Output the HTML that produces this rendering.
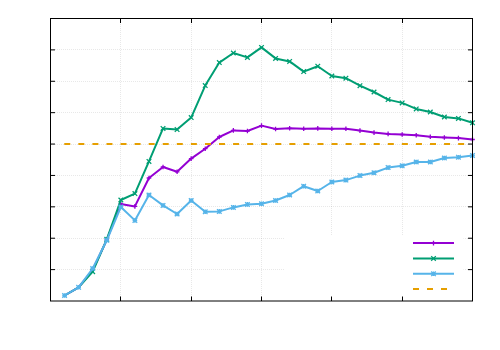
<!DOCTYPE html><html><head><meta charset="utf-8"><style>html,body{margin:0;padding:0;background:#fff;font-family:"Liberation Sans",sans-serif}svg{display:block}</style></head><body>
<svg width="500" height="350" viewBox="0 0 500 350">
<rect width="500" height="350" fill="#fff"/>
<path d="M120.5 301.0V18.5M191.5 301.0V18.5M261.5 301.0V18.5M331.5 301.0V18.5M402.5 301.0V18.5M51.0 49.5H472.5M51.0 81.5H472.5M51.0 112.5H472.5M51.0 144.5H472.5M51.0 175.5H472.5M51.0 206.5H472.5M51.0 238.5H472.5M51.0 269.5H472.5" stroke="#000" stroke-opacity="0.09" stroke-width="1" stroke-dasharray="1 1" fill="none"/>
<rect x="285" y="236" width="178.5" height="64.50" fill="#fff"/>
<path d="M120.5 301.0v-4.5M120.5 18.5v4.5M191.5 301.0v-4.5M191.5 18.5v4.5M261.5 301.0v-4.5M261.5 18.5v4.5M331.5 301.0v-4.5M331.5 18.5v4.5M402.5 301.0v-4.5M402.5 18.5v4.5M50.5 49.89h4.5M472.5 49.89h-4.5M50.5 81.28h4.5M472.5 81.28h-4.5M50.5 112.67h4.5M472.5 112.67h-4.5M50.5 144.06h4.5M472.5 144.06h-4.5M50.5 175.44h4.5M472.5 175.44h-4.5M50.5 206.83h4.5M472.5 206.83h-4.5M50.5 238.22h4.5M472.5 238.22h-4.5M50.5 269.61h4.5M472.5 269.61h-4.5" stroke="#000" stroke-width="1" fill="none"/>
<polyline points="64.57,295.50 78.63,287.35 92.70,270.10 106.77,239.80 120.83,204.00 134.90,206.40 148.97,178.00 163.03,167.00 177.10,171.80 191.17,158.60 205.23,148.70 219.30,137.00 233.37,130.40 247.43,131.00 261.50,125.60 275.57,129.00 289.63,128.30 303.70,128.80 317.77,128.40 331.83,128.80 345.90,128.80 359.97,130.60 374.03,132.60 388.10,133.90 402.17,134.50 416.23,135.20 430.30,136.70 444.37,137.50 458.43,138.10 472.50,139.50" fill="none" stroke="#9400d3" stroke-width="2" stroke-linejoin="round" stroke-linecap="butt"/>
<path d="M90.40 270.10H95.00M92.70 267.80V272.40M104.47 239.80H109.07M106.77 237.50V242.10M118.53 204.00H123.13M120.83 201.70V206.30M132.60 206.40H137.20M134.90 204.10V208.70M146.67 178.00H151.27M148.97 175.70V180.30M160.73 167.00H165.33M163.03 164.70V169.30M174.80 171.80H179.40M177.10 169.50V174.10M188.87 158.60H193.47M191.17 156.30V160.90M202.93 148.70H207.53M205.23 146.40V151.00M217.00 137.00H221.60M219.30 134.70V139.30M231.07 130.40H235.67M233.37 128.10V132.70M245.13 131.00H249.73M247.43 128.70V133.30M259.20 125.60H263.80M261.50 123.30V127.90M273.27 129.00H277.87M275.57 126.70V131.30M287.33 128.30H291.93M289.63 126.00V130.60M301.40 128.80H306.00M303.70 126.50V131.10M315.47 128.40H320.07M317.77 126.10V130.70M329.53 128.80H334.13M331.83 126.50V131.10M343.60 128.80H348.20M345.90 126.50V131.10M357.67 130.60H362.27M359.97 128.30V132.90M371.73 132.60H376.33M374.03 130.30V134.90M385.80 133.90H390.40M388.10 131.60V136.20M399.87 134.50H404.47M402.17 132.20V136.80M413.93 135.20H418.53M416.23 132.90V137.50M428.00 136.70H432.60M430.30 134.40V139.00M442.07 137.50H446.67M444.37 135.20V139.80M456.13 138.10H460.73M458.43 135.80V140.40M470.20 139.50H474.80M472.50 137.20V141.80" stroke="#9400d3" stroke-width="1.3" fill="none"/>
<polyline points="64.57,295.50 78.63,287.40 92.70,271.70 106.77,239.30 120.83,200.00 134.90,193.60 148.97,161.40 163.03,128.40 177.10,129.60 191.17,117.60 205.23,85.60 219.30,62.60 233.37,53.00 247.43,57.40 261.50,47.40 275.57,58.40 289.63,61.40 303.70,71.60 317.77,66.20 331.83,76.00 345.90,78.20 359.97,85.70 374.03,92.00 388.10,99.60 402.17,102.90 416.23,108.90 430.30,112.00 444.37,117.00 458.43,118.40 472.50,122.80" fill="none" stroke="#009e73" stroke-width="2" stroke-linejoin="round" stroke-linecap="butt"/>
<path d="M90.40 269.40L95.00 274.00M90.40 274.00L95.00 269.40M104.47 237.00L109.07 241.60M104.47 241.60L109.07 237.00M118.53 197.70L123.13 202.30M118.53 202.30L123.13 197.70M132.60 191.30L137.20 195.90M132.60 195.90L137.20 191.30M146.67 159.10L151.27 163.70M146.67 163.70L151.27 159.10M160.73 126.10L165.33 130.70M160.73 130.70L165.33 126.10M174.80 127.30L179.40 131.90M174.80 131.90L179.40 127.30M188.87 115.30L193.47 119.90M188.87 119.90L193.47 115.30M202.93 83.30L207.53 87.90M202.93 87.90L207.53 83.30M217.00 60.30L221.60 64.90M217.00 64.90L221.60 60.30M231.07 50.70L235.67 55.30M231.07 55.30L235.67 50.70M245.13 55.10L249.73 59.70M245.13 59.70L249.73 55.10M259.20 45.10L263.80 49.70M259.20 49.70L263.80 45.10M273.27 56.10L277.87 60.70M273.27 60.70L277.87 56.10M287.33 59.10L291.93 63.70M287.33 63.70L291.93 59.10M301.40 69.30L306.00 73.90M301.40 73.90L306.00 69.30M315.47 63.90L320.07 68.50M315.47 68.50L320.07 63.90M329.53 73.70L334.13 78.30M329.53 78.30L334.13 73.70M343.60 75.90L348.20 80.50M343.60 80.50L348.20 75.90M357.67 83.40L362.27 88.00M357.67 88.00L362.27 83.40M371.73 89.70L376.33 94.30M371.73 94.30L376.33 89.70M385.80 97.30L390.40 101.90M385.80 101.90L390.40 97.30M399.87 100.60L404.47 105.20M399.87 105.20L404.47 100.60M413.93 106.60L418.53 111.20M413.93 111.20L418.53 106.60M428.00 109.70L432.60 114.30M428.00 114.30L432.60 109.70M442.07 114.70L446.67 119.30M442.07 119.30L446.67 114.70M456.13 116.10L460.73 120.70M456.13 120.70L460.73 116.10M470.20 120.50L474.80 125.10M470.20 125.10L474.80 120.50" stroke="#009e73" stroke-width="1.3" fill="none"/>
<polyline points="64.57,295.50 78.63,287.30 92.70,268.50 106.77,240.30 120.83,207.00 134.90,220.40 148.97,195.00 163.03,205.40 177.10,214.00 191.17,200.50 205.23,211.80 219.30,211.40 233.37,207.40 247.43,204.40 261.50,203.80 275.57,200.50 289.63,195.00 303.70,186.20 317.77,191.00 331.83,182.00 345.90,180.10 359.97,175.60 374.03,172.80 388.10,167.60 402.17,165.80 416.23,162.00 430.30,162.00 444.37,158.00 458.43,157.20 472.50,155.60" fill="none" stroke="#56b4e9" stroke-width="2" stroke-linejoin="round" stroke-linecap="butt"/>
<path d="M62.27 295.50H66.87M64.57 293.20V297.80M62.27 293.20L66.87 297.80M62.27 297.80L66.87 293.20M76.33 287.30H80.93M78.63 285.00V289.60M76.33 285.00L80.93 289.60M76.33 289.60L80.93 285.00M90.40 268.50H95.00M92.70 266.20V270.80M90.40 266.20L95.00 270.80M90.40 270.80L95.00 266.20M104.47 240.30H109.07M106.77 238.00V242.60M104.47 238.00L109.07 242.60M104.47 242.60L109.07 238.00M118.53 207.00H123.13M120.83 204.70V209.30M118.53 204.70L123.13 209.30M118.53 209.30L123.13 204.70M132.60 220.40H137.20M134.90 218.10V222.70M132.60 218.10L137.20 222.70M132.60 222.70L137.20 218.10M146.67 195.00H151.27M148.97 192.70V197.30M146.67 192.70L151.27 197.30M146.67 197.30L151.27 192.70M160.73 205.40H165.33M163.03 203.10V207.70M160.73 203.10L165.33 207.70M160.73 207.70L165.33 203.10M174.80 214.00H179.40M177.10 211.70V216.30M174.80 211.70L179.40 216.30M174.80 216.30L179.40 211.70M188.87 200.50H193.47M191.17 198.20V202.80M188.87 198.20L193.47 202.80M188.87 202.80L193.47 198.20M202.93 211.80H207.53M205.23 209.50V214.10M202.93 209.50L207.53 214.10M202.93 214.10L207.53 209.50M217.00 211.40H221.60M219.30 209.10V213.70M217.00 209.10L221.60 213.70M217.00 213.70L221.60 209.10M231.07 207.40H235.67M233.37 205.10V209.70M231.07 205.10L235.67 209.70M231.07 209.70L235.67 205.10M245.13 204.40H249.73M247.43 202.10V206.70M245.13 202.10L249.73 206.70M245.13 206.70L249.73 202.10M259.20 203.80H263.80M261.50 201.50V206.10M259.20 201.50L263.80 206.10M259.20 206.10L263.80 201.50M273.27 200.50H277.87M275.57 198.20V202.80M273.27 198.20L277.87 202.80M273.27 202.80L277.87 198.20M287.33 195.00H291.93M289.63 192.70V197.30M287.33 192.70L291.93 197.30M287.33 197.30L291.93 192.70M301.40 186.20H306.00M303.70 183.90V188.50M301.40 183.90L306.00 188.50M301.40 188.50L306.00 183.90M315.47 191.00H320.07M317.77 188.70V193.30M315.47 188.70L320.07 193.30M315.47 193.30L320.07 188.70M329.53 182.00H334.13M331.83 179.70V184.30M329.53 179.70L334.13 184.30M329.53 184.30L334.13 179.70M343.60 180.10H348.20M345.90 177.80V182.40M343.60 177.80L348.20 182.40M343.60 182.40L348.20 177.80M357.67 175.60H362.27M359.97 173.30V177.90M357.67 173.30L362.27 177.90M357.67 177.90L362.27 173.30M371.73 172.80H376.33M374.03 170.50V175.10M371.73 170.50L376.33 175.10M371.73 175.10L376.33 170.50M385.80 167.60H390.40M388.10 165.30V169.90M385.80 165.30L390.40 169.90M385.80 169.90L390.40 165.30M399.87 165.80H404.47M402.17 163.50V168.10M399.87 163.50L404.47 168.10M399.87 168.10L404.47 163.50M413.93 162.00H418.53M416.23 159.70V164.30M413.93 159.70L418.53 164.30M413.93 164.30L418.53 159.70M428.00 162.00H432.60M430.30 159.70V164.30M428.00 159.70L432.60 164.30M428.00 164.30L432.60 159.70M442.07 158.00H446.67M444.37 155.70V160.30M442.07 155.70L446.67 160.30M442.07 160.30L446.67 155.70M456.13 157.20H460.73M458.43 154.90V159.50M456.13 154.90L460.73 159.50M456.13 159.50L460.73 154.90M470.20 155.60H474.80M472.50 153.30V157.90M470.20 153.30L474.80 157.90M470.20 157.90L474.80 153.30" stroke="#56b4e9" stroke-width="1.3" fill="none"/>
<path d="M64.27 144.06H472.50" stroke="#e69f00" stroke-width="2" stroke-dasharray="6 8.067" fill="none"/>
<path d="M413 243.1H454" stroke="#9400d3" stroke-width="2" fill="none"/><path d="M431.20 243.10H435.80M433.50 240.80V245.40" stroke="#9400d3" stroke-width="1.3" fill="none"/>
<path d="M413 258.4H454" stroke="#009e73" stroke-width="2" fill="none"/><path d="M431.20 256.10L435.80 260.70M431.20 260.70L435.80 256.10" stroke="#009e73" stroke-width="1.3" fill="none"/>
<path d="M413 273.8H454" stroke="#56b4e9" stroke-width="2" fill="none"/><path d="M431.20 273.80H435.80M433.50 271.50V276.10M431.20 271.50L435.80 276.10M431.20 276.10L435.80 271.50" stroke="#56b4e9" stroke-width="1.3" fill="none"/>
<path d="M413 289.0H454" stroke="#e69f00" stroke-width="2" stroke-dasharray="6 8" fill="none"/>
<rect x="50.5" y="18.5" width="422.0" height="282.50" fill="none" stroke="#000" stroke-width="1"/>
</svg></body></html>
